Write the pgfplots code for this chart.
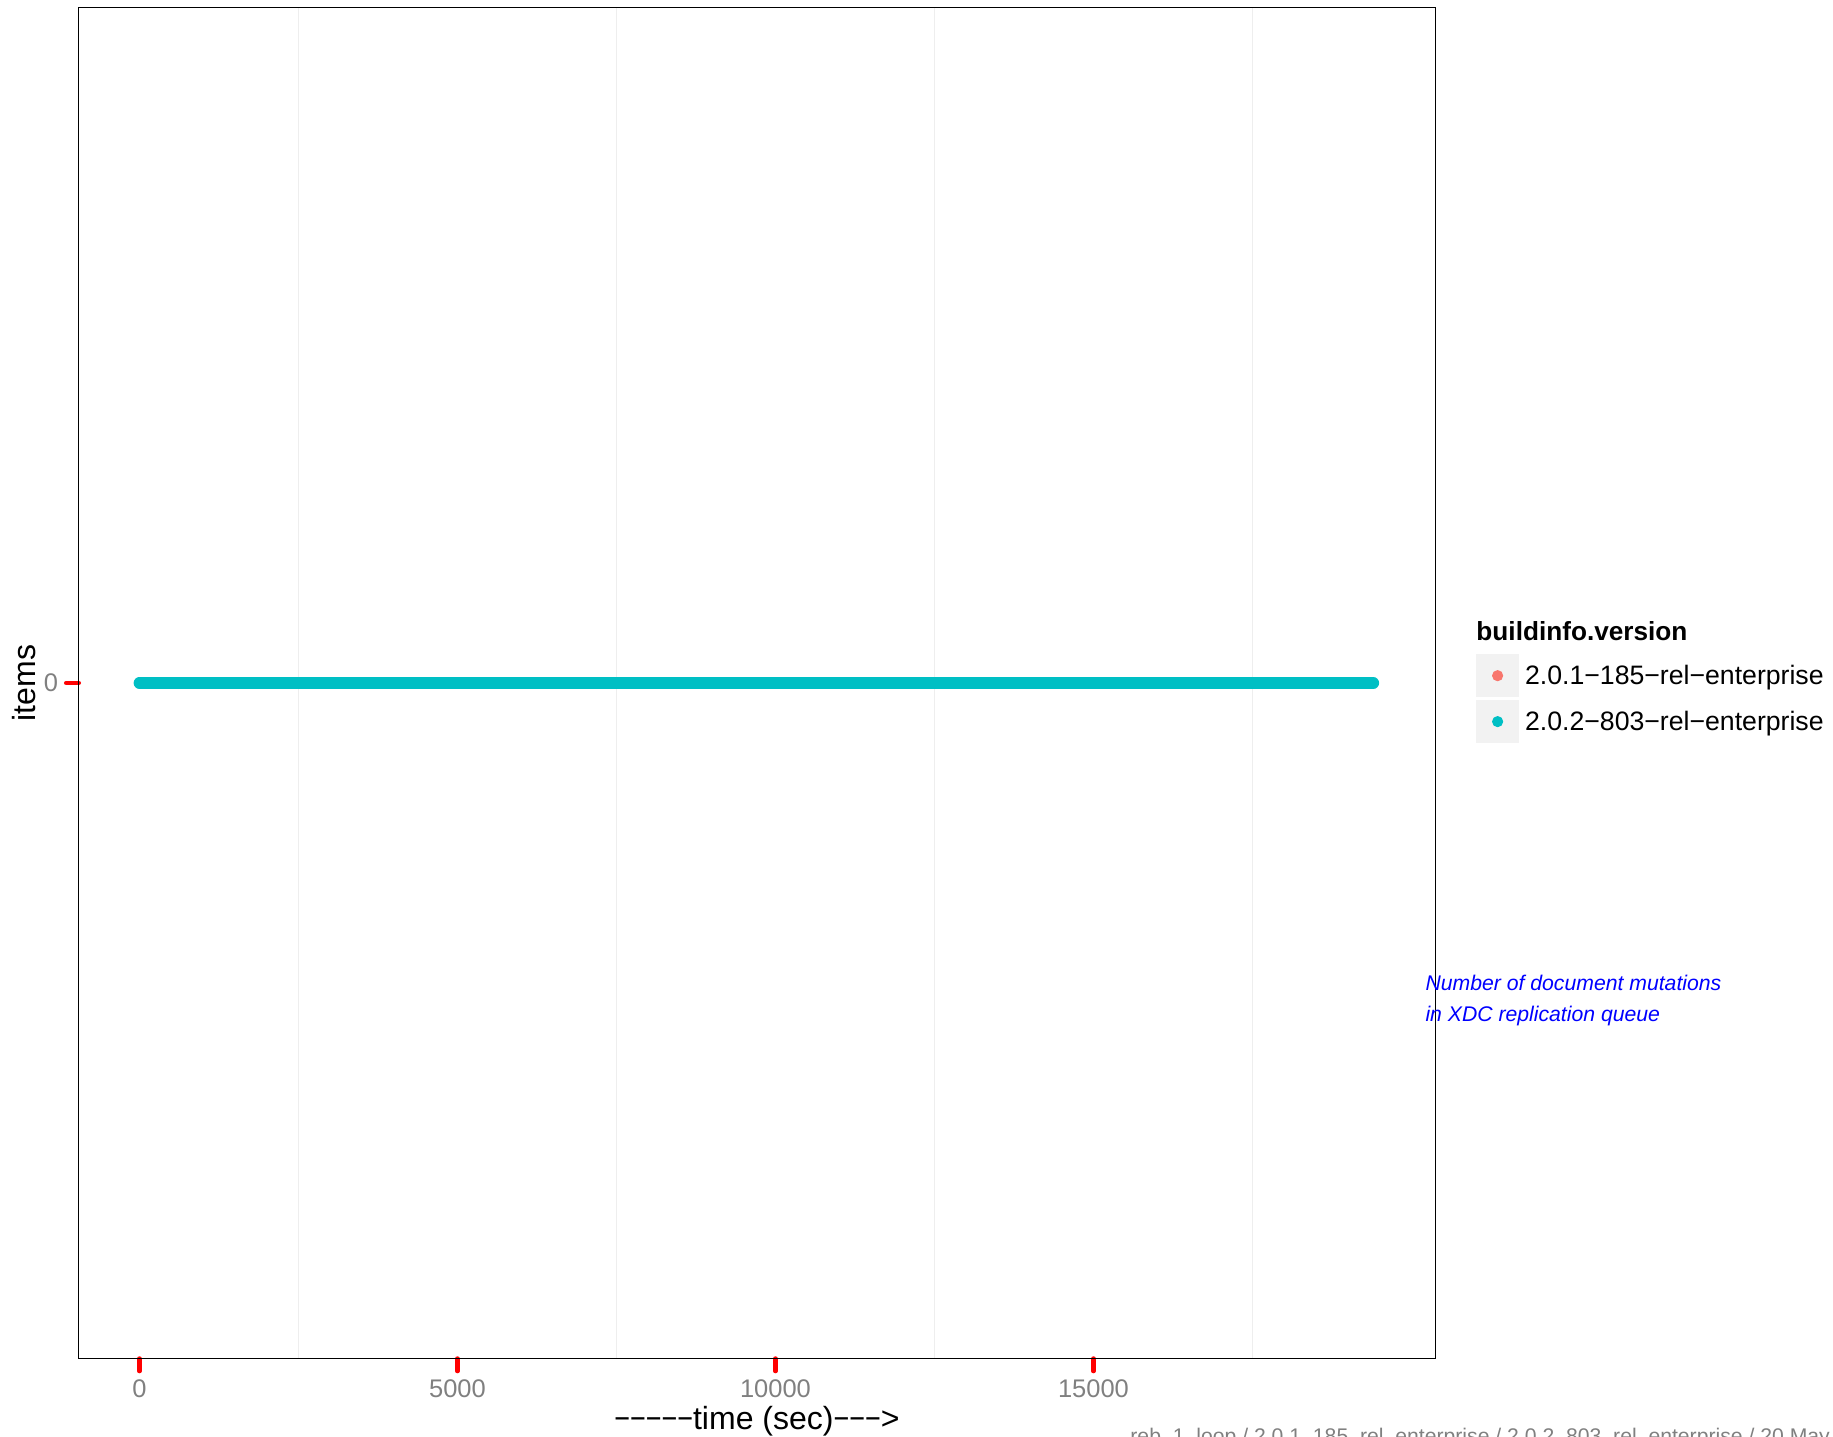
\documentclass[border=0pt]{standalone}
\usepackage{fontspec}
\setmainfont{Liberation Sans}
\usepackage{pgfplots}
\pgfplotsset{compat=1.18}
\definecolor{ggteal}{HTML}{00BFC4}
\definecolor{ggred}{HTML}{F8766D}
\definecolor{legbg}{HTML}{F2F2F2}
\definecolor{gridgray}{HTML}{EEEEEE}
\definecolor{ticklab}{HTML}{808080}
\newcommand{\dsh}{\scalebox{0.84}[1]{−}}
\pgfplotstableread{
x y
0 0
1000 0
2000 0
3000 0
4000 0
5000 0
6000 0
7000 0
8000 0
9000 0
10000 0
11000 0
12000 0
13000 0
14000 0
15000 0
16000 0
17000 0
18000 0
19000 0
19400 0
}\seriesB
\begin{document}
\begin{tikzpicture}
\useasboundingbox (0,0) rectangle (784pt,614.5pt);
\clip (0,0) rectangle (784pt,614.5pt);
\begin{axis}[
  at={(33.65pt,33.4pt)}, anchor=south west,
  scale only axis, width=580.25pt, height=577.95pt,
  xmin=-955, xmax=20375, ymin=-1, ymax=1,
  xtick={0,5000,10000,15000}, ytick={0},
  minor xtick={2500,7500,12500,17500},
  xminorgrids=true,
  minor grid style={color=gridgray, line width=0.45pt},
  xtick pos=bottom, ytick pos=left,
  tick align=outside, major tick length=5.3pt, minor tick length=0pt,
  major tick style={red, line width=2pt, line cap=round},
  axis line style={black, line width=0.6pt},
  scaled x ticks=false,
  /pgf/number format/.cd, set thousands separator={}, assume math mode=true,
  /pgfplots/.cd,
  tick label style={color=ticklab, font=\fontsize{10.9}{13}\selectfont},
  xlabel={\dsh\dsh\dsh\dsh\dsh time (sec)\dsh\dsh\dsh>}, ylabel={items},
  label style={font=\fontsize{13.7}{16}\selectfont, text=black},
  xlabel style={at={(axis description cs:0.5,-0.05234)}, anchor=base},
  ylabel style={at={(axis description cs:-0.03214,0.5)}, anchor=base},
  clip=false,
  legend style={at={(axis description cs:1.02999,0.52141)}, anchor=north west,
    draw=none, fill=none, inner sep=0pt, outer sep=0pt,
    font=\fontsize{11.4}{13.5}\selectfont, row sep=1.15pt,
    nodes={inner sep=0pt},
    /tikz/every odd column/.append style={column sep=2.5pt}},
  legend cell align=left,
  legend image code/.code={
    \fill[legbg, draw=none, line width=0pt] (0pt,-8.85pt) rectangle (18.5pt,9.65pt);
    \fill[draw=none, line width=0pt] (9.25pt,0.4pt) circle (2.4pt);
  },
]
\addlegendimage{color=ggred}
\addlegendentry{2.0.1−185−rel−enterprise}
\addplot[color=ggteal, line width=4.96pt, line cap=round] table[x=x,y=y] {\seriesB};
\addlegendentry{2.0.2−803−rel−enterprise}
% border cuts by grid lines
\draw[white, line width=0.8pt] (axis cs:0,1) ++(0,-0.6pt) -- ++(0,1.2pt);
\draw[white, line width=0.8pt] (axis cs:5000,1) ++(0,-0.6pt) -- ++(0,1.2pt);
\draw[white, line width=0.8pt] (axis cs:10000,1) ++(0,-0.6pt) -- ++(0,1.2pt);
\draw[white, line width=0.8pt] (axis cs:15000,1) ++(0,-0.6pt) -- ++(0,1.2pt);
\draw[gridgray, line width=0.6pt] (axis cs:2500,1) ++(0,-0.6pt) -- ++(0,1.2pt);
\draw[gridgray, line width=0.6pt] (axis cs:7500,1) ++(0,-0.6pt) -- ++(0,1.2pt);
\draw[gridgray, line width=0.6pt] (axis cs:12500,1) ++(0,-0.6pt) -- ++(0,1.2pt);
\draw[gridgray, line width=0.6pt] (axis cs:17500,1) ++(0,-0.6pt) -- ++(0,1.2pt);
\draw[white, line width=0.8pt] (axis cs:20375,0) ++(-0.6pt,0) -- ++(1.2pt,0);
\end{axis}
\node[anchor=base west, inner sep=0pt, font=\fontsize{11.2}{13}\selectfont\bfseries] at (631.3pt,340.5pt) {buildinfo.version};
\node[anchor=base west, inner sep=0pt, align=left, text=blue, font=\fontsize{9.07}{13.5}\selectfont\itshape] at (609.5pt,177.5pt) {Number of document mutations\\in XDC replication queue};
\node[anchor=base west, inner sep=0pt, text=gray, font=\fontsize{9.06}{11}\selectfont] at (483.3pt,-3pt) {reb\_1\_loop / 2.0.1\_185\_rel\_enterprise / 2.0.2\_803\_rel\_enterprise / 20 May};
\end{tikzpicture}
\end{document}
